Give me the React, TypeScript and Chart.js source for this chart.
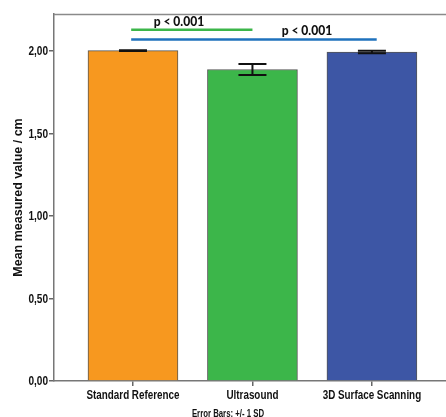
import React, { useEffect, useRef } from "react";
import { Chart, registerables } from "chart.js";

Chart.register(...registerables);

const categories = ["Standard Reference", "Ultrasound", "3D Surface Scanning"];
const categoryPositions = [1, 2, 3];
const means = [2.0, 1.886, 1.992];
const sds = [0.002, 0.033, 0.007];
const barColors = ["#F7981F", "#3CB64A", "#3D56A5"];
const yTickValues = [0, 0.5, 1, 1.5, 2];
const comparisons = [
  { from: 0.985, to: 2.0, y: 2.127, label: "p < 0.001", color: "#3CB64A", textX: 1.385, textY: 2.152 },
  { from: 0.985, to: 3.04, y: 2.067, label: "p < 0.001", color: "#1F72BD", textX: 2.456, textY: 2.097 },
];
const footnote = "Error Bars: +/- 1 SD";

const SANS = "'Liberation Sans', Arial, sans-serif";
const NARROW_SCALE = 0.82;

function narrowText(ctx: any, text: string, x: number, y: number, align: string, font: string, sx: number) {
  ctx.save();
  ctx.font = font;
  ctx.textAlign = align;
  ctx.textBaseline = "alphabetic";
  ctx.translate(x, y);
  ctx.scale(sx, 1);
  ctx.fillText(text, 0, 0);
  ctx.restore();
}

const extrasPlugin = {
  id: "extras",
  afterDatasetsDraw(chart: any) {
    const ctx = chart.ctx;
    const x = chart.scales.x;
    const y = chart.scales.y;
    const area = chart.chartArea;
    ctx.save();
    // top frame line
    ctx.strokeStyle = "#8a8a8a";
    ctx.lineWidth = 1.5;
    ctx.beginPath();
    ctx.moveTo(area.left, area.top + 0.5);
    ctx.lineTo(area.right, area.top + 0.5);
    ctx.stroke();
    // error bars
    ctx.strokeStyle = "#111";
    ctx.lineWidth = 2;
    categoryPositions.forEach((p, i) => {
      const cx = x.getPixelForValue(p);
      const yt = y.getPixelForValue(means[i] + sds[i]);
      const yb = y.getPixelForValue(means[i] - sds[i]);
      const half = 14;
      ctx.beginPath();
      ctx.moveTo(cx, yt);
      ctx.lineTo(cx, yb);
      ctx.moveTo(cx - half, yt);
      ctx.lineTo(cx + half, yt);
      ctx.moveTo(cx - half, yb);
      ctx.lineTo(cx + half, yb);
      ctx.stroke();
    });
    // comparison lines
    comparisons.forEach((c) => {
      ctx.strokeStyle = c.color;
      ctx.lineWidth = 2.5;
      const py = y.getPixelForValue(c.y);
      ctx.beginPath();
      ctx.moveTo(x.getPixelForValue(c.from), py);
      ctx.lineTo(x.getPixelForValue(c.to), py);
      ctx.stroke();
      ctx.fillStyle = "#111";
      narrowText(ctx, c.label, x.getPixelForValue(c.textX), y.getPixelForValue(c.textY), "center",
        "900 14px Lato, 'Open Sans', sans-serif", 0.86);
    });
    ctx.fillStyle = "#111";
    // y tick labels
    yTickValues.forEach((v) => {
      narrowText(ctx, v.toFixed(2).replace(".", ","), y.right - 6, y.getPixelForValue(v) + 4.3, "right",
        "bold 12px " + SANS, 0.84);
    });
    // x tick labels
    categoryPositions.forEach((p, i) => {
      narrowText(ctx, categories[i], x.getPixelForValue(p), area.bottom + 18, "center",
        "bold 12px " + SANS, NARROW_SCALE);
    });
    // footnote
    narrowText(ctx, footnote, chart.width / 2 + 5, chart.height - 0.5, "center", "bold 10px " + SANS, 0.78);
    ctx.restore();
  },
};

export default function App() {
  const ref = useRef<HTMLCanvasElement | null>(null);
  useEffect(() => {
    document.body.style.margin = "0";
    const canvas = ref.current;
    if (!canvas) return;
    const chart = new Chart(canvas, {
      type: "bar",
      data: {
        datasets: [
          {
            data: categoryPositions.map((p, i) => ({ x: p, y: means[i] })),
            backgroundColor: barColors,
            borderColor: "#555",
            borderWidth: 1,
            barThickness: 90,
          },
        ],
      },
      options: {
        animation: false,
        responsive: false,
        maintainAspectRatio: false,
        layout: { padding: { top: 14, right: 0, bottom: 0, left: 0 } },
        plugins: { legend: { display: false }, tooltip: { enabled: false } },
        scales: {
          x: {
            type: "linear",
            offset: false,
            min: 0.339,
            max: 3.62,
            afterBuildTicks: (scale: any) => {
              scale.ticks = categoryPositions.map((v) => ({ value: v }));
            },
            afterFit: (scale: any) => {
              scale.height = 36;
            },
            grid: { offset: false, drawOnChartArea: false, drawTicks: true, tickLength: 5, color: "#666", lineWidth: 1.5 },
            border: { display: true, color: "#777", width: 1.5 },
            ticks: { display: false },
          },
          y: {
            min: 0,
            max: 2.222,
            afterBuildTicks: (scale: any) => {
              scale.ticks = yTickValues.map((v) => ({ value: v }));
            },
            afterFit: (scale: any) => {
              scale.width = 54;
            },
            grid: { drawOnChartArea: false, drawTicks: true, tickLength: 5, color: "#666", lineWidth: 1.5 },
            border: { display: true, color: "#777", width: 1.5 },
            ticks: { display: false },
            title: {
              display: true,
              text: "Mean measured value / cm",
              color: "#111",
              padding: { top: 11, bottom: 0 },
              font: { family: SANS, size: 12.5, weight: "bold" },
            },
          },
        },
      },
      plugins: [extrasPlugin],
    } as any);
    return () => chart.destroy();
  }, []);
  return (
    <div style={{ width: 446, height: 417 }}>
      <canvas ref={ref} width={446} height={417} style={{ display: "block", width: 446, height: 417 }} />
    </div>
  );
}
